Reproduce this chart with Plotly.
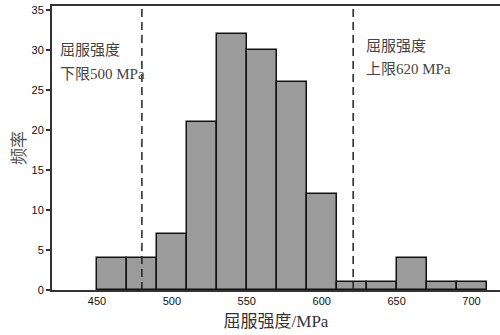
import plotly.graph_objects as go

bin_start = [450, 470, 490, 510, 530, 550, 570, 590, 610, 630, 650, 670, 690]
bin_width = 20
counts = [4, 4, 7, 21, 32, 30, 26, 12, 1, 1, 4, 1, 1]
lower_line = 480
upper_line = 621
x_ticks = [450, 500, 550, 600, 650, 700]
y_ticks = [0, 5, 10, 15, 20, 25, 30, 35]

centers = [s + bin_width / 2 for s in bin_start]

fig = go.Figure()
fig.add_trace(go.Bar(
    x=centers, y=counts, width=[bin_width] * len(counts),
    marker=dict(color="#9b9b9b", line=dict(color="#111", width=1.5)),
    showlegend=False, hoverinfo="skip",
))

for xv in (lower_line, upper_line):
    fig.add_shape(type="line", x0=xv, x1=xv, y0=0, y1=35.5, xref="x", yref="y",
                  line=dict(color="#222", width=1.5, dash="8px,5px"))

cjk = "'Liberation Serif', 'Noto Sans CJK SC', serif"
fig.add_annotation(x=424, y=30, xref="x", yref="y", xanchor="left", yanchor="middle",
                   text="屈服强度", showarrow=False, font=dict(family=cjk, size=15, color="#444"))
fig.add_annotation(x=424, y=27, xref="x", yref="y", xanchor="left", yanchor="middle",
                   text="下限500 MPa", showarrow=False, font=dict(family=cjk, size=15, color="#444"))
fig.add_annotation(x=628, y=30.5, xref="x", yref="y", xanchor="left", yanchor="middle",
                   text="屈服强度", showarrow=False, font=dict(family=cjk, size=15, color="#444"))
fig.add_annotation(x=628, y=27.6, xref="x", yref="y", xanchor="left", yanchor="middle",
                   text="上限620 MPa", showarrow=False, font=dict(family=cjk, size=15, color="#444"))

fig.update_layout(
    width=500, height=335,
    margin=dict(l=52, r=0, t=6, b=45),
    paper_bgcolor="white", plot_bgcolor="white",
    bargap=0,
    xaxis=dict(range=[420, 719], tickvals=x_ticks, ticks="", showgrid=False, zeroline=False,
               showline=True, linecolor="#333", linewidth=2, mirror=True,
               tickfont=dict(family="Liberation Sans", size=11, color="#111"),
               title=dict(text="屈服强度/MPa", font=dict(family=cjk, size=17, color="#333"), standoff=9)),
    yaxis=dict(range=[0, 35.5], tickvals=y_ticks, ticks="outside", ticklen=4, tickwidth=1.5,
               tickcolor="#333", showgrid=False, zeroline=False,
               showline=True, linecolor="#333", linewidth=2,
               tickfont=dict(family="Liberation Sans", size=11, color="#111"),
               title=dict(text="频率", font=dict(family=cjk, size=17, color="#555"), standoff=2)),
)

fig.write_html("out.html")
